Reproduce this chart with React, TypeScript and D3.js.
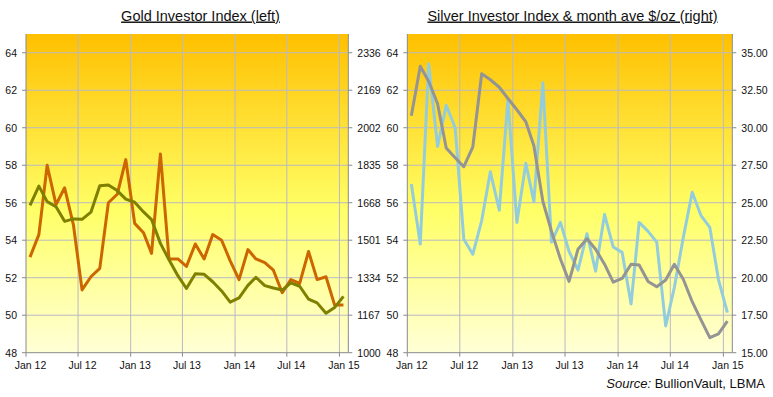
import * as d3 from 'd3';

// monthly readings, Jan 2012 .. Jan 2015 (37 months)
const goldIndex = [
  53.1, 54.3, 58.0, 55.9, 56.8, 54.8, 51.35, 52.05, 52.5, 56.0, 56.45, 58.3,
  54.9, 54.4, 53.3, 58.6, 53.0, 53.0, 52.6, 53.8, 53.0, 54.3, 54.0, 52.9,
  51.9, 53.5, 53.0, 52.8, 52.4, 51.2, 51.9, 51.7, 53.4, 51.9, 52.05, 50.55,
  50.55,
];
const goldPrice = [
  1656, 1742, 1673, 1650, 1585, 1596, 1594, 1626, 1744, 1747, 1722, 1684,
  1670, 1627, 1593, 1487, 1414, 1343, 1286, 1352, 1349, 1316, 1275, 1225,
  1244, 1300, 1336, 1299, 1288, 1279, 1311, 1296, 1239, 1222, 1176, 1201,
  1251,
];
const silverIndex = [
  57.0, 53.8, 63.4, 59.0, 61.2, 60.0, 54.05, 53.25, 55.05, 57.65, 55.6, 61.5,
  54.95, 58.1, 56.05, 62.4, 53.9, 54.95, 53.4, 52.4, 54.35, 52.35, 55.37, 53.64,
  53.35, 50.6, 54.95, 54.47, 53.9, 49.43, 51.48, 54.15, 56.56, 55.33, 54.69, 51.9,
  50.14,
];
const silverPrice = [
  30.8, 34.1, 33.1, 31.6, 28.65, 28.0, 27.4, 28.7, 33.6, 33.2, 32.7, 31.95,
  31.2, 30.4, 28.8, 25.1, 23.1, 21.25, 19.75, 21.9, 22.6, 21.9, 20.9, 19.7,
  19.95, 20.9, 20.85, 19.75, 19.4, 19.85, 20.9, 19.9, 18.4, 17.2, 16.0, 16.25,
  17.1,
];

const indexTicks = [48, 50, 52, 54, 56, 58, 60, 62, 64];
const goldTicks = [1000, 1167, 1334, 1501, 1668, 1835, 2002, 2169, 2336];
const silverTicks = [15, 17.5, 20, 22.5, 25, 27.5, 30, 32.5, 35];

const months = d3.range(goldIndex.length).map((i) => new Date(2012, i, 15));
const xTicks = d3.range(7).map((i) => new Date(2012, i * 6, 1));

const W = 773, H = 397;
const TOP = 34, BOTTOM = 352.7;
const FONT = '"Liberation Sans", Arial, sans-serif';
const GRID = '#b9b9c4';
const AXIS = '#8a8a8a';

function Panel({ x0, x1, title, titleX, idx, price, idxColor, priceColor, priceDomain, priceTicks, priceFmt, gradId }) {
  const x = d3.scaleTime().domain([new Date(2012, 0, 1), new Date(2015, 1, 1)]).range([x0, x1]);
  const yL = d3.scaleLinear().domain([48, 65]).range([BOTTOM, TOP]);
  const yR = d3.scaleLinear().domain(priceDomain).range([BOTTOM, TOP]);
  const lineL = d3.line<number>().x((_, i) => x(months[i])).y((v) => yL(v));
  const lineR = d3.line<number>().x((_, i) => x(months[i])).y((v) => yR(v));
  const fmt = d3.timeFormat('%b %y');

  return (
    <g>
      <text x={titleX} y={20.5} textAnchor="middle" fontSize={14.5} fill="#111" style={{ textDecoration: 'underline' }}>{title}</text>
      <rect x={x0} y={TOP} width={x1 - x0} height={BOTTOM - TOP} fill={`url(#${gradId})`} />
      {indexTicks.slice(1).map((t) => (
        <line key={'h' + t} x1={x0} x2={x1} y1={yL(t)} y2={yL(t)} stroke={GRID} strokeWidth={1} />
      ))}
      {xTicks.slice(1).map((d, i) => (
        <line key={'v' + i} x1={x(d)} x2={x(d)} y1={TOP} y2={BOTTOM} stroke={GRID} strokeWidth={1} />
      ))}
      {/* axes */}
      <line x1={x0} x2={x0} y1={TOP} y2={BOTTOM} stroke={AXIS} />
      <line x1={x1} x2={x1} y1={TOP} y2={BOTTOM} stroke={AXIS} />
      <line x1={x0} x2={x1} y1={BOTTOM} y2={BOTTOM} stroke={AXIS} />
      {indexTicks.map((t) => (
        <g key={'l' + t}>
          <line x1={x0 - 4} x2={x0} y1={yL(t)} y2={yL(t)} stroke={AXIS} />
          <text x={x0 - 9} y={yL(t) + 4} textAnchor="end" fontSize={10.5} fill="#111">{t}</text>
        </g>
      ))}
      {priceTicks.map((t) => (
        <g key={'r' + t}>
          <line x1={x1} x2={x1 + 4} y1={yR(t)} y2={yR(t)} stroke={AXIS} />
          <text x={x1 + 9} y={yR(t) + 4} fontSize={10.5} fill="#111">{priceFmt(t)}</text>
        </g>
      ))}
      {xTicks.map((d, i) => (
        <g key={'x' + i}>
          <line x1={x(d)} x2={x(d)} y1={BOTTOM} y2={BOTTOM + 4} stroke={AXIS} />
          <text x={x(d) + 4.5} y={368.5} textAnchor="middle" fontSize={10.5} fill="#111">{fmt(d)}</text>
        </g>
      ))}
      <path d={lineL(idx) || ''} fill="none" stroke={idxColor} strokeWidth={3} strokeLinejoin="round" />
      <path d={lineR(price) || ''} fill="none" stroke={priceColor} strokeWidth={3} strokeLinejoin="round" />
    </g>
  );
}

export default function App() {
  return (
    <div style={{ position: 'absolute', left: 0, top: 0 }}>
      <svg width={W} height={H} style={{ display: 'block', fontFamily: FONT, background: '#fff' }}>
        <defs>
          {['gA', 'gB'].map((id) => (
            <linearGradient key={id} id={id} x1="0" y1="0" x2="0" y2="1">
              <stop offset="0" stopColor="#ffc000" />
              <stop offset="0.55" stopColor="#ffff66" />
              <stop offset="1" stopColor="#ffffd6" />
            </linearGradient>
          ))}
        </defs>
        <Panel
          x0={26} x1={348.3} title="Gold Investor Index (left)" titleX={200.5}
          idx={goldIndex} price={goldPrice} idxColor="#cc6600" priceColor="#7f7f00"
          priceDomain={[1000, 1000 + 17 * 83.5]} priceTicks={goldTicks} priceFmt={(v) => String(v)} gradId="gA"
        />
        <Panel
          x0={407.3} x1={732.3} title="Silver Investor Index & month ave $/oz (right)" titleX={572.5}
          idx={silverIndex} price={silverPrice} idxColor="#93cddd" priceColor="#949494"
          priceDomain={[15, 15 + 17 * 1.25]} priceTicks={silverTicks} priceFmt={(v) => v.toFixed(2)} gradId="gB"
        />
        <text x={765} y={387.5} textAnchor="end" fontSize={13} fill="#111">
          <tspan fontStyle="italic">Source:</tspan> BullionVault, LBMA
        </text>
      </svg>
    </div>
  );
}
